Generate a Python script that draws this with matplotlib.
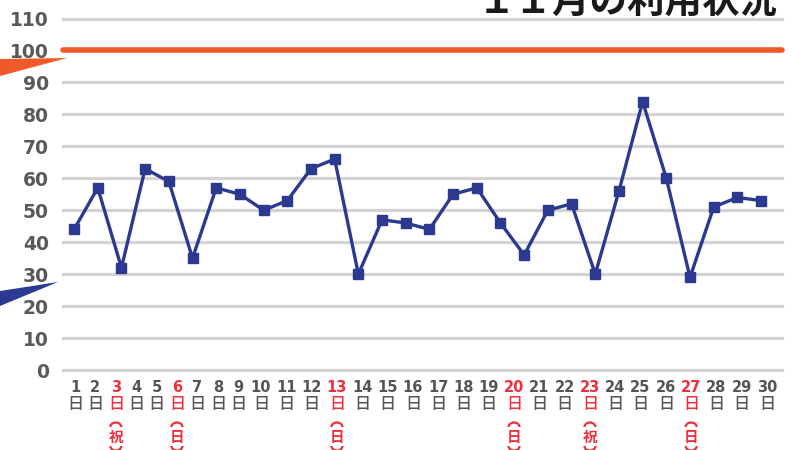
import matplotlib
matplotlib.use("Agg")
import matplotlib.pyplot as plt
from matplotlib.patches import Polygon, Arc

plt.rcParams['font.family'] = ['DejaVu Sans', 'Noto Sans CJK JP']

# ---- data ----
days = list(range(1, 31))
usage = [44, 57, 32, 63, 59, 35, 57, 55, 50, 53, 63, 66, 30, 47, 46,
         44, 55, 57, 46, 36, 50, 52, 30, 56, 84, 60, 29, 51, 54, 53]
capacity = 100
yticks = list(range(0, 111, 10))
holiday_notes = {3: '祝', 6: '日', 13: '日', 20: '日', 23: '祝', 27: '日'}
title = '１１月の利用状況'

W, H = 792, 450
fig = plt.figure(figsize=(W / 100, H / 100), dpi=100)

ax_l, ax_r, ax_t, ax_b = 62.7, 781.7, 18.5, 370.0
ax = fig.add_axes([ax_l / W, 1 - ax_b / H, (ax_r - ax_l) / W, (ax_b - ax_t) / H])
ax.set_xlim(0.52, 30.87)
ax.set_ylim(0, 110)
for s in ax.spines.values():
    s.set_visible(False)

grid_c = '#d3d3d3'
for v in yticks:
    if v == capacity:
        continue
    ax.axhline(v, color=grid_c, lw=2.3, zorder=1, clip_on=False)

orange = '#f05a28'
ax.axhline(capacity, color=orange, lw=4.0, zorder=2, clip_on=False,
           solid_capstyle='round')

navy = '#2b3990'
ax.plot(days, usage, color=navy, lw=2.4, marker='s', markersize=7.5,
        zorder=3, clip_on=False)

ax.set_yticks(yticks)
ax.set_yticklabels([str(v) for v in yticks], fontsize=13.5, fontweight='bold',
                   color='#595959')
ax.tick_params(axis='y', length=0, pad=10)
ax.set_xticks([])

# overlay in pixel units for decorations
ov = fig.add_axes([0, 0, 1, 1], facecolor='none')
ov.set_xlim(0, W)
ov.set_ylim(0, H)
ov.axis('off')

# ---- x labels (packed like reference) ----
gray = '#555555'
red = '#f02e3c'
px = []
x = 75.0
for i, d in enumerate(days):
    if i > 0:
        w_prev = 20.4 if days[i - 1] < 10 else 25.3
        w_cur = 20.4 if d < 10 else 25.3
        x += (w_prev + w_cur) / 2
    px.append(x)

def fy(y):
    return 1 - y / H

for d, xp in zip(days, px):
    c = red if d in holiday_notes else gray
    xf = xp / W
    fig.text(xf, fy(387), str(d), ha='center', va='center', fontsize=10.5,
             fontweight='bold', color=c, family=['DejaVu Sans'])
    fig.text(xf, fy(404), '日', ha='center', va='center', fontsize=11.5,
             color=c, family=['Noto Sans CJK JP'], fontweight='medium')
    if d in holiday_notes:
        ov.add_patch(Arc((xp, H - 427), 11, 9, theta1=0, theta2=180,
                         color=c, lw=1.6))
        fig.text(xf, fy(437), holiday_notes[d], ha='center', va='center',
                 fontsize=10.5, color=c, family=['Noto Sans CJK JP'],
                 fontweight='bold')
        ov.add_patch(Arc((xp, H - 446), 11, 9, theta1=180, theta2=360,
                         color=c, lw=1.6))

# ---- title (cut at top) ----
fig.text(778 / W, fy(13), title, ha='right', va='baseline', fontsize=27,
         fontweight='bold', color='#1a1a1a', family=['Noto Sans CJK JP'])

# ---- decorative callout tails at left ----
ov.add_patch(Polygon([(0, H - 59), (67, H - 58), (0, H - 76)], closed=True,
                     facecolor=orange, edgecolor='none'))
ov.add_patch(Polygon([(0, H - 291), (58, H - 282), (0, H - 306)], closed=True,
                     facecolor=navy, edgecolor='none'))

fig.savefig('out.png', dpi=100)
